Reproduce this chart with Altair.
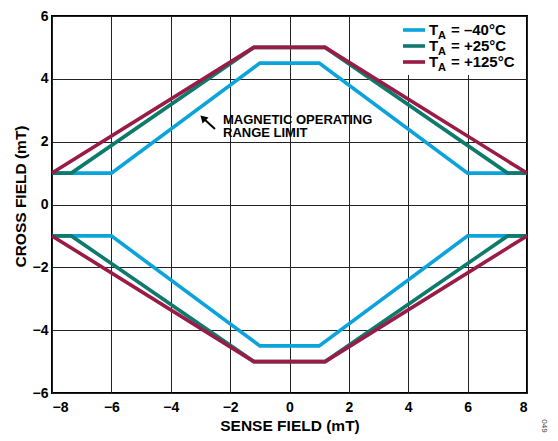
import altair as alt
import pandas as pd

# ---- data ----
series_names = ["–40°C", "+25°C", "+125°C"]
series_colors = ["#0BA3DC", "#0E7A6D", "#9A1B45"]

x_m40 = [-8, -6, -1, 1, 6, 8]
y_m40_up = [1, 1, 4.5, 4.5, 1, 1]
y_m40_low = [-1, -1, -4.5, -4.5, -1, -1]

x_p25 = [-8, -7.35, -1.2, 1.2, 7.35, 8]
y_p25_up = [1, 1, 5, 5, 1, 1]
y_p25_low = [-1, -1, -5, -5, -1, -1]

x_p125 = [-8, -1.2, 1.2, 8]
y_p125_up = [1, 5, 5, 1]
y_p125_low = [-1, -5, -5, -1]

x_ticks = [-8, -6, -4, -2, 0, 2, 4, 6, 8]
y_ticks = [-6, -4, -2, 0, 2, 4, 6]

annotation = ["MAGNETIC OPERATING", "RANGE LIMIT"]

FONT = "Liberation Sans"

def rows(name, xs, ys_up, ys_low):
    out = []
    for branch, ys in (("up", ys_up), ("low", ys_low)):
        for i, (x, y) in enumerate(zip(xs, ys)):
            out.append({"series": name, "branch": branch, "i": i, "x": x, "y": y})
    return out

data = pd.DataFrame(
    rows(series_names[0], x_m40, y_m40_up, y_m40_low)
    + rows(series_names[1], x_p25, y_p25_up, y_p25_low)
    + rows(series_names[2], x_p125, y_p125_up, y_p125_low)
)
one = pd.DataFrame({"k": [0]})

x_enc = alt.X(
    "x:Q",
    scale=alt.Scale(domain=[-8, 8], nice=False, zero=False),
    axis=alt.Axis(values=x_ticks, title="SENSE FIELD (mT)", grid=True,
                  ticks=False, labelPadding=7, titlePadding=4, format="d"),
)
y_enc = alt.Y(
    "y:Q",
    scale=alt.Scale(domain=[-6, 6], nice=False, zero=False),
    axis=alt.Axis(values=y_ticks, title="CROSS FIELD (mT)", grid=True,
                  ticks=False, labelPadding=4, format="d",
                  titleX=-24, titleY=180, titleAlign="center", titleBaseline="bottom",
                  titleAngle=270),
)

layers = []
for name, col in zip(series_names, series_colors):
    layers.append(
        alt.Chart(data)
        .transform_filter(alt.datum.series == name)
        .mark_line(strokeWidth=3.6, color=col, strokeJoin="miter")
        .encode(x=x_enc, y=y_enc, detail="branch:N", order="i:Q")
    )

# legend background
layers.append(
    alt.Chart(one).mark_rect(fill="white").encode(
        x=alt.value(341), x2=alt.value(474), y=alt.value(1), y2=alt.value(59)
    )
)

# manual legend with subscript A
row_y = [14, 30, 46]
for name, col, ry in zip(series_names, series_colors, row_y):
    layers.append(
        alt.Chart(one).mark_rule(strokeWidth=3.6, color=col).encode(
            x=alt.value(351), x2=alt.value(373), y=alt.value(ry), y2=alt.value(ry)
        )
    )
    layers.append(
        alt.Chart(one).mark_text(text="T", font=FONT, fontWeight="bold", fontSize=15,
                                 align="left", baseline="alphabetic", color="black")
        .encode(x=alt.value(377), y=alt.value(ry + 5))
    )
    layers.append(
        alt.Chart(one).mark_text(text="A", font=FONT, fontWeight="bold", fontSize=11,
                                 align="left", baseline="alphabetic", color="black")
        .encode(x=alt.value(386), y=alt.value(ry + 9))
    )
    layers.append(
        alt.Chart(one).mark_text(text="= " + name, font=FONT, fontWeight="bold", fontSize=15,
                                 align="left", baseline="alphabetic", color="black")
        .encode(x=alt.value(399), y=alt.value(ry + 5))
    )

# annotation text
for line, by in zip(annotation, [108, 121]):
    layers.append(
        alt.Chart(one).mark_text(text=line, font=FONT, fontWeight="bold", fontSize=13,
                                 align="left", baseline="alphabetic", color="black")
        .encode(x=alt.value(171), y=alt.value(by))
    )

# arrow
layers.append(
    alt.Chart(one).mark_rule(strokeWidth=2, color="black").encode(
        x=alt.value(163), x2=alt.value(152), y=alt.value(113), y2=alt.value(103)
    )
)
layers.append(
    alt.Chart(one).mark_point(shape="triangle-up", filled=True, color="black",
                              size=70, angle=315, opacity=1)
    .encode(x=alt.value(151), y=alt.value(102))
)

# figure id
layers.append(
    alt.Chart(one).mark_text(text="049", font=FONT, fontSize=8, angle=90,
                             align="center", baseline="middle", color="#444")
    .encode(x=alt.value(492), y=alt.value(410))
)

chart = (
    alt.layer(*layers)
    .properties(
        width=475,
        height=377,
        autosize=alt.AutoSizeParams(type="none"),
        padding={"left": 44, "top": 8, "right": 22, "bottom": 41},
    )
    .configure(background="white")
    .configure_view(stroke="black", strokeWidth=2)
    .configure_axis(
        labelFont=FONT, labelFontWeight="bold", labelFontSize=14, labelColor="black",
        titleFont=FONT, titleFontWeight="bold", titleFontSize=15.5, titleColor="black",
        gridColor="#222222", gridWidth=1, gridOpacity=1,
        domain=False,
    )
)

chart.save("out.html", embed_options={"renderer": "svg", "actions": False})
